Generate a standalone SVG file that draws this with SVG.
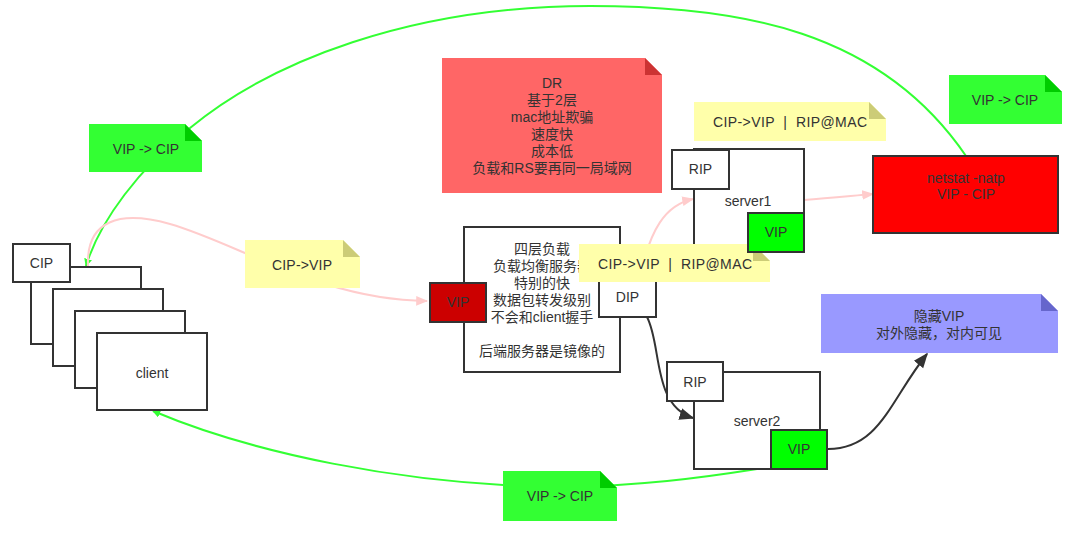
<svg xmlns="http://www.w3.org/2000/svg" width="1080" height="533" viewBox="0 0 1080 533">
<defs>
<style>
text{font-family:"Liberation Sans","Noto Sans CJK SC",sans-serif;font-size:14px;fill:#333;text-anchor:middle;dominant-baseline:central}
.box{fill:#fff;stroke:#333;stroke-width:2}
.green{fill:#00ff00;stroke:#333;stroke-width:2}
.red{fill:#cc0000;stroke:#333;stroke-width:2}
.gline{fill:none;stroke:#33ff33;stroke-width:2}
.pline{fill:none;stroke:#ffcccc;stroke-width:2}
.dline{fill:none;stroke:#333;stroke-width:2}
.pre{white-space:pre}
</style>
<marker id="ag" viewBox="0 0 10 10" refX="9" refY="5" markerWidth="8" markerHeight="8" markerUnits="userSpaceOnUse" orient="auto"><path d="M0,0 L10,5 L0,10 Z" fill="#33ff33"/></marker>
<marker id="ap" viewBox="0 0 10 10" refX="9" refY="5" markerWidth="12" markerHeight="12" markerUnits="userSpaceOnUse" orient="auto"><path d="M0,1 L10,5 L0,9 Z" fill="#ffcccc"/></marker>
<marker id="ad" viewBox="0 0 10 10" refX="9" refY="5" markerWidth="15" markerHeight="15" markerUnits="userSpaceOnUse" orient="auto"><path d="M0,1 L10,5 L0,9 Z" fill="#333"/></marker>
</defs>
<rect width="1080" height="533" fill="#fff"/>

<g id="connectors">
<path class="gline" d="M966,156 C880,30 740,6 590,6 C410,6 270,62 190,128 C140,168 100,220 86,266" marker-end="url(#ag)"/>
<path class="gline" d="M757,469 C700,478 640,486 560,487 C400,485 250,452 153,411" marker-end="url(#ag)"/>
<path class="pline" d="M88,266 C86,220 120,210 170,224 C240,244 320,300 427,301" marker-end="url(#ap)"/>
<path class="pline" d="M640,277 C650,230 665,205 693,199" marker-end="url(#ap)"/>
<path class="pline" d="M804,200 C830,198 850,196 873,194" marker-end="url(#ap)"/>
<path class="dline" d="M647,317 C662,345 652,405 693,418" marker-end="url(#ad)"/>
<path class="dline" d="M828,449 C880,449 890,400 927,354" marker-end="url(#ad)"/>
</g>

<g id="client-stack">
<rect class="box" x="31" y="267" width="110" height="77"/>
<rect class="box" x="13" y="244" width="57" height="38"/>
<text x="41.5" y="263">CIP</text>
<rect class="box" x="53" y="289" width="110" height="77"/>
<rect class="box" x="75" y="311" width="110" height="77"/>
<rect class="box" x="97" y="333" width="110" height="77"/>
<text x="152" y="373">client</text>
</g>

<g id="note-cip-vip">
<path d="M245,240 H343 L360,257 V288 H245 Z" fill="#ffffaa"/>
<path d="M343,240 L360,257 H343 Z" fill="#cccc77"/>
<text x="302" y="265" textLength="60" lengthAdjust="spacing">CIP-&gt;VIP</text>
</g>

<g id="lb">
<rect class="box" x="464" y="227" width="156" height="145"/>
<text x="542" y="249">四层负载</text>
<text x="542" y="266">负载均衡服务器</text>
<text x="542" y="283">特别的快</text>
<text x="542" y="300">数据包转发级别</text>
<text x="542" y="317">不会和client握手</text>
<text x="542" y="351">后端服务器是镜像的</text>
</g>
<g id="lb-vip">
<rect class="red" x="430" y="283" width="56" height="39"/>
<text x="458" y="302">VIP</text>
</g>
<g id="lb-dip">
<rect class="box" x="599" y="277" width="57" height="40"/>
<text x="627.5" y="297">DIP</text>
</g>

<g id="server1">
<rect class="box" x="694" y="149" width="110" height="103"/>
<rect class="box" x="672" y="150" width="57" height="39"/>
<text x="700.5" y="169">RIP</text>
<text x="748" y="201">server1</text>
</g>

<g id="note-mid">
<path d="M579,244 H753 L770,261 V282 H579 Z" fill="#ffffaa"/>
<path d="M753,244 L770,261 H753 Z" fill="#cccc77"/>
<text class="pre" x="675" y="264" textLength="154" lengthAdjust="spacing">CIP-&gt;VIP  |  RIP@MAC</text>
</g>

<g id="server1-vip">
<rect class="green" x="748" y="213" width="56" height="39"/>
<text x="776" y="232">VIP</text>
</g>

<g id="note-top">
<path d="M694,102 H869 L886,119 V141 H694 Z" fill="#ffffaa"/>
<path d="M869,102 L886,119 H869 Z" fill="#cccc77"/>
<text class="pre" x="790" y="122" textLength="154" lengthAdjust="spacing">CIP-&gt;VIP  |  RIP@MAC</text>
</g>

<g id="note-dr">
<path d="M442,58 H645 L662,75 V193 H442 Z" fill="#ff6666"/>
<path d="M645,58 L662,75 H645 Z" fill="#cc3333"/>
<text x="552" y="83">DR</text>
<text x="552" y="100">基于2层</text>
<text x="552" y="117">mac地址欺骗</text>
<text x="552" y="134">速度快</text>
<text x="552" y="151">成本低</text>
<text x="552" y="168">负载和RS要再同一局域网</text>
</g>

<g id="netstat">
<rect x="873" y="156" width="185" height="77" fill="#ff0000" stroke="#333" stroke-width="2"/>
<text x="966" y="178">netstat -natp</text>
<text x="966" y="194">VIP - CIP</text>
</g>

<g id="note-green-right">
<path d="M949,75 H1045 L1062,92 V124 H949 Z" fill="#33ff33"/>
<path d="M1045,75 L1062,92 H1045 Z" fill="#00cc00"/>
<text x="1005" y="100">VIP -&gt; CIP</text>
</g>

<g id="note-green-left">
<path d="M89,124 H185 L202,141 V172 H89 Z" fill="#33ff33"/>
<path d="M185,124 L202,141 H185 Z" fill="#00cc00"/>
<text x="146" y="149">VIP -&gt; CIP</text>
</g>

<g id="server2">
<rect class="box" x="694" y="372" width="126" height="97"/>
<rect class="box" x="667" y="362" width="56" height="39"/>
<text x="695" y="382">RIP</text>
<text x="757" y="421">server2</text>
<rect class="green" x="771" y="430" width="56" height="39"/>
<text x="799" y="449">VIP</text>
</g>

<g id="note-hidden">
<path d="M821,294 H1041 L1058,311 V353 H821 Z" fill="#9999ff"/>
<path d="M1041,294 L1058,311 H1041 Z" fill="#6666cc"/>
<text x="939" y="316">隐藏VIP</text>
<text x="939" y="333">对外隐藏，对内可见</text>
</g>

<g id="note-green-bottom">
<path d="M503,471 H600 L617,488 V521 H503 Z" fill="#33ff33"/>
<path d="M600,471 L617,488 H600 Z" fill="#00cc00"/>
<text x="560" y="496">VIP -&gt; CIP</text>
</g>
</svg>
